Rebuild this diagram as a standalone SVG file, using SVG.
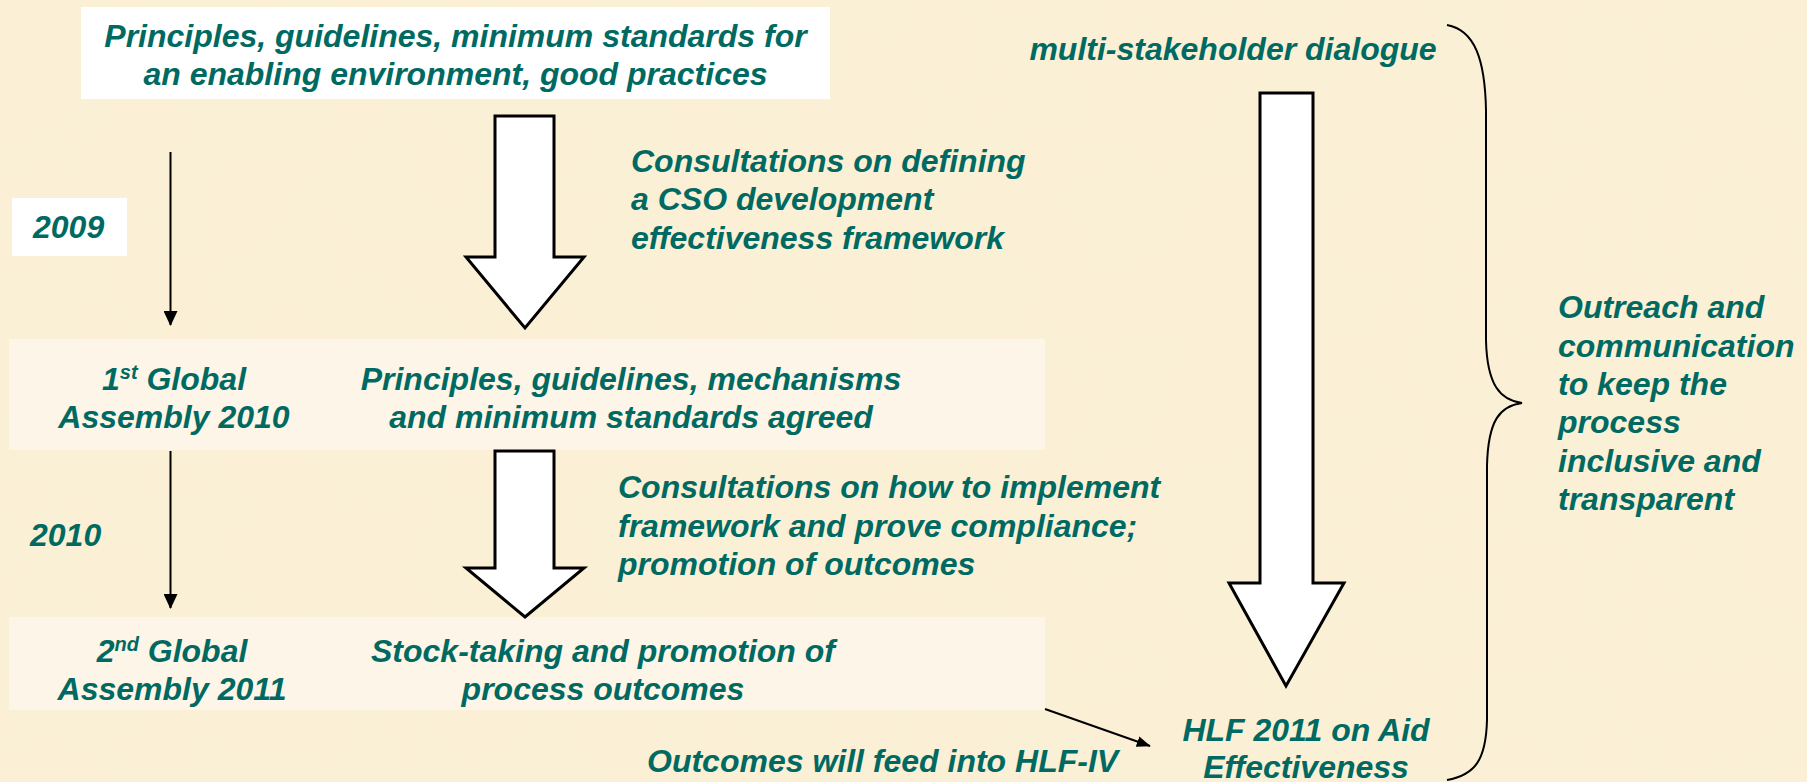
<svg xmlns="http://www.w3.org/2000/svg" width="1807" height="782" viewBox="0 0 1807 782">
<defs>
<style>
.t{font-family:"Liberation Sans",Arial,sans-serif;font-weight:bold;font-style:italic;font-size:32px;fill:#006A62}
.m{text-anchor:middle}
.big{fill:#FFFFFF;stroke:#000;stroke-width:3;stroke-linejoin:miter}
.thin{stroke:#000;stroke-width:2;fill:none}
.band{fill:#FEF8EC;opacity:0.8}
</style>
<marker id="ah" viewBox="0 0 15 14" refX="14" refY="7" markerWidth="7.5" markerHeight="7" orient="auto" markerUnits="strokeWidth">
<path d="M0,0 L15,7 L0,14 Z" fill="#000"/>
</marker>
<marker id="ah2" viewBox="0 0 18 14" refX="17" refY="7" markerWidth="7" markerHeight="5.5" orient="auto" markerUnits="strokeWidth">
<path d="M0,0 L18,7 L0,14 Z" fill="#000"/>
</marker>
<filter id="tex" x="0" y="0" width="100%" height="100%">
<feTurbulence type="fractalNoise" baseFrequency="0.012" numOctaves="3" seed="4" result="n"/>
<feColorMatrix in="n" type="matrix" values="0 0 0 0 0.93  0 0 0 0 0.86  0 0 0 0 0.68  0 0 0 0.35 -0.05"/>
</filter>
</defs>
<rect x="0" y="0" width="1807" height="782" fill="#FBF0D6"/>
<rect x="0" y="0" width="1807" height="782" filter="url(#tex)"/>

<g id="band1"><rect class="band" x="9" y="339" width="1036" height="111"/></g>
<g id="band2"><rect class="band" x="9" y="617" width="1036" height="93"/></g>

<g id="connectors">
<polygon class="big" points="495,116 554,116 554,257 584,257 525,328 466,257 495,257"/>
<polygon class="big" points="495,451 554,451 554,568 584,568 525,617 466,568 495,568"/>
<polygon class="big" points="1260,93 1313,93 1313,583 1344,583 1286,686 1229,583 1260,583"/>
<line class="thin" x1="170.5" y1="152" x2="170.5" y2="325" marker-end="url(#ah)"/>
<line class="thin" x1="170.5" y1="451" x2="170.5" y2="608" marker-end="url(#ah)"/>
<line class="thin" stroke-width="2.5" x1="1045" y1="709" x2="1150" y2="746" marker-end="url(#ah2)"/>
<path class="thin" stroke-width="2.5" d="M1447,25 C1475,30 1485,60 1486,110 L1486,340 C1487,385 1500,400 1522,403 C1500,406 1488,420 1487,466 L1487,720 C1486,760 1475,775 1447,780"/>
</g>

<g id="top">
<rect x="81" y="7" width="749" height="92" fill="#FFFFFF"/>
<text class="t m" x="455.5" y="47">Principles, guidelines, minimum standards for</text>
<text class="t m" x="455.5" y="85">an enabling environment, good practices</text>
</g>

<g id="y2009">
<rect x="12" y="198" width="115" height="58" fill="#FFFFFF"/>
<text class="t" x="33" y="238">2009</text>
</g>

<g id="consult1">
<text class="t" x="631" y="172">Consultations on defining</text>
<text class="t" x="631" y="210">a CSO development</text>
<text class="t" x="631" y="249">effectiveness framework</text>
</g>

<g id="ga1">
<text class="t m" x="174" y="390">1<tspan font-size="20" dy="-11">st</tspan><tspan dy="11"> Global</tspan></text>
<text class="t m" x="174" y="428">Assembly 2010</text>
</g>

<g id="agreed">
<text class="t m" x="631" y="390">Principles, guidelines, mechanisms</text>
<text class="t m" x="631" y="428">and minimum standards agreed</text>
</g>

<g id="y2010">
<text class="t" x="30" y="546">2010</text>
</g>

<g id="consult2">
<text class="t" x="618" y="498">Consultations on how to implement</text>
<text class="t" x="618" y="537">framework and prove compliance;</text>
<text class="t" x="618" y="575">promotion of outcomes</text>
</g>

<g id="ga2">
<text class="t m" x="172" y="662">2<tspan font-size="20" dy="-11">nd</tspan><tspan dy="11"> Global</tspan></text>
<text class="t m" x="172" y="700">Assembly 2011</text>
</g>

<g id="stock">
<text class="t m" x="603" y="662">Stock-taking and promotion of</text>
<text class="t m" x="603" y="700">process outcomes</text>
</g>

<g id="feed">
<text class="t" x="647" y="772">Outcomes will feed into HLF-IV</text>
</g>

<g id="msd">
<text class="t m" x="1233" y="60">multi-stakeholder dialogue</text>
</g>

<g id="hlf">
<text class="t m" x="1306" y="741">HLF 2011 on Aid</text>
<text class="t m" x="1306" y="778">Effectiveness</text>
</g>

<g id="outreach">
<text class="t" x="1558" y="318">Outreach and</text>
<text class="t" x="1558" y="357">communication</text>
<text class="t" x="1558" y="395">to keep the</text>
<text class="t" x="1558" y="433">process</text>
<text class="t" x="1558" y="472">inclusive and</text>
<text class="t" x="1558" y="510">transparent</text>
</g>
</svg>
